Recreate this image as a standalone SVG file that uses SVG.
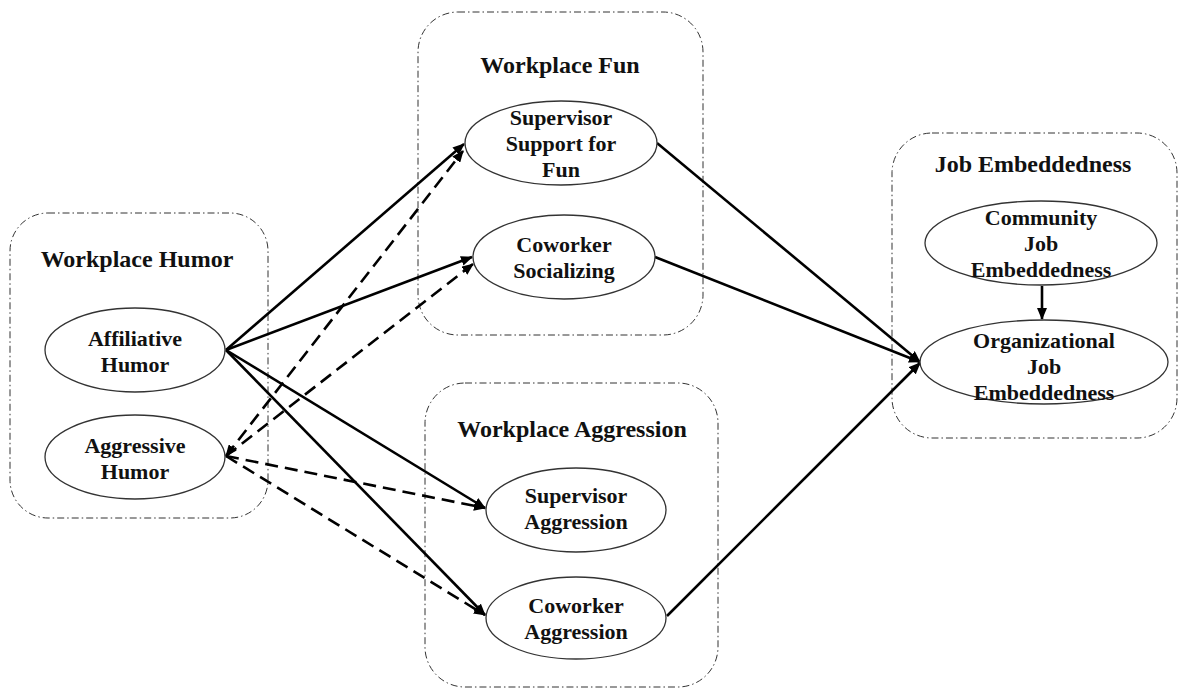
<svg xmlns="http://www.w3.org/2000/svg" width="1178" height="690" viewBox="0 0 1178 690">
<style>
.grp{fill:none;stroke:#333;stroke-width:1;stroke-dasharray:7 3 1.5 3}
.node{fill:#fff;stroke:#333;stroke-width:1.3}
.title{font-family:"Liberation Serif",serif;font-weight:bold;font-size:24px;text-anchor:middle;fill:#111}
.lbl{font-family:"Liberation Serif",serif;font-weight:bold;font-size:22px;text-anchor:middle;fill:#111}
.solid{fill:none;stroke:#000;stroke-width:2.6}
.dash{fill:none;stroke:#000;stroke-width:2.6;stroke-dasharray:13 7}
</style>
<defs>
<marker id="ah" markerUnits="userSpaceOnUse" markerWidth="12" markerHeight="10" refX="11" refY="5" orient="auto-start-reverse" viewBox="0 0 12 10">
<path d="M0,0 L12,5 L0,10 z" fill="#000"/>
</marker>
</defs>
<rect width="1178" height="690" fill="#fff"/>
<g id="group-humor"><rect class="grp" x="10" y="213" width="258" height="305" rx="38"/><text class="title" x="137" y="267">Workplace Humor</text></g>
<g id="group-fun"><rect class="grp" x="418" y="12" width="285" height="323" rx="40"/><text class="title" x="560" y="73">Workplace Fun</text></g>
<g id="group-aggression"><rect class="grp" x="425" y="383" width="293" height="304" rx="40"/><text class="title" x="572" y="437">Workplace Aggression</text></g>
<g id="group-embed"><rect class="grp" x="892" y="133" width="285" height="305" rx="40"/><text class="title" x="1033" y="172">Job Embeddedness</text></g>
<g id="connectors">
<line class="solid" x1="226" y1="350" x2="464" y2="144" marker-end="url(#ah)"/>
<line class="solid" x1="226" y1="350" x2="472" y2="257" marker-end="url(#ah)"/>
<line class="solid" x1="226" y1="350" x2="485" y2="508" marker-end="url(#ah)"/>
<line class="solid" x1="226" y1="350" x2="485" y2="615" marker-end="url(#ah)"/>
<line class="dash" x1="226" y1="456" x2="463" y2="151" marker-start="url(#ah)" marker-end="url(#ah)"/>
<line class="dash" x1="226" y1="456" x2="473" y2="264" marker-end="url(#ah)"/>
<line class="dash" x1="226" y1="456" x2="485" y2="508" marker-end="url(#ah)"/>
<line class="dash" x1="226" y1="456" x2="485" y2="615" marker-end="url(#ah)"/>
<line class="solid" x1="657" y1="143" x2="920" y2="362" marker-end="url(#ah)"/>
<line class="solid" x1="655" y1="257" x2="920" y2="362" marker-end="url(#ah)"/>
<line class="solid" x1="667" y1="616" x2="920" y2="363" marker-end="url(#ah)"/>
<line class="solid" x1="1042" y1="286" x2="1042" y2="319" marker-end="url(#ah)"/>
</g>
<g id="node-affiliative"><ellipse class="node" cx="135" cy="350" rx="90" ry="42"/><text class="lbl" x="135" y="346">Affiliative</text><text class="lbl" x="135" y="372">Humor</text></g>
<g id="node-aggressive"><ellipse class="node" cx="135" cy="457" rx="90" ry="42"/><text class="lbl" x="135" y="453">Aggressive</text><text class="lbl" x="135" y="479">Humor</text></g>
<g id="node-supsupport"><ellipse class="node" cx="561" cy="143" rx="96" ry="42"/><text class="lbl" x="561" y="125">Supervisor</text><text class="lbl" x="561" y="151">Support for</text><text class="lbl" x="561" y="177">Fun</text></g>
<g id="node-cosocial"><ellipse class="node" cx="564" cy="257" rx="91" ry="42"/><text class="lbl" x="564" y="252">Coworker</text><text class="lbl" x="564" y="278">Socializing</text></g>
<g id="node-supagg"><ellipse class="node" cx="576" cy="510" rx="90" ry="42"/><text class="lbl" x="576" y="503">Supervisor</text><text class="lbl" x="576" y="529">Aggression</text></g>
<g id="node-coagg"><ellipse class="node" cx="576" cy="618" rx="90" ry="41"/><text class="lbl" x="576" y="613">Coworker</text><text class="lbl" x="576" y="639">Aggression</text></g>
<g id="node-community"><ellipse class="node" cx="1041" cy="243" rx="116" ry="42"/><text class="lbl" x="1041" y="225">Community</text><text class="lbl" x="1041" y="251">Job</text><text class="lbl" x="1041" y="277">Embeddedness</text></g>
<g id="node-org"><ellipse class="node" cx="1044" cy="362" rx="124" ry="42"/><text class="lbl" x="1044" y="348">Organizational</text><text class="lbl" x="1044" y="374">Job</text><text class="lbl" x="1044" y="400">Embeddedness</text></g>
</svg>
